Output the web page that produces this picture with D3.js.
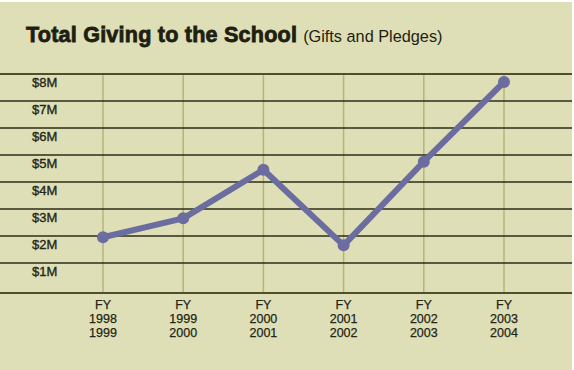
<!DOCTYPE html>
<html>
<head>
<meta charset="utf-8">
<script src="https://cdn.jsdelivr.net/npm/d3@7/dist/d3.min.js"></script>
<style>
  html, body { margin: 0; padding: 0; background: #ffffff; }
  svg { display: block; }
  text { font-family: "Liberation Sans", Arial, Helvetica, sans-serif; }
</style>
</head>
<body>
<svg id="chart" width="574" height="370"></svg>
<script>
// ---- data ----
const categories = ["1998-1999", "1999-2000", "2000-2001", "2001-2002", "2002-2003", "2003-2004"];
const totalGiving = [2.25, 2.95, 4.75, 1.95, 5.05, 8.0]; // $ millions
const yTicks = [1, 2, 3, 4, 5, 6, 7, 8];
const yTickLabels = ["$1M", "$2M", "$3M", "$4M", "$5M", "$6M", "$7M", "$8M"];
const titleText = "Total Giving to the School";
const subtitleText = "(Gifts and Pledges)";

// ---- layout ----
const W = 574, H = 370;
const svg = d3.select("#chart");

svg.append("rect").attr("x", 0).attr("y", 2).attr("width", 572).attr("height", H - 2)
  .attr("fill", "#dedfb6");

const x = d3.scalePoint().domain(categories).range([103, 504]);
const y = d3.scaleLinear().domain([0, 8]).range([298, 82]);

const gridOffset = -8;      // grid lines sit just above each label
const topLine = y(8) + gridOffset;
const axisY = y(0) - 5;

// vertical grid lines
svg.append("g").selectAll("line").data(categories).join("line")
  .attr("x1", d => x(d)).attr("x2", d => x(d))
  .attr("y1", topLine).attr("y2", axisY)
  .attr("stroke", "#b3b47a").attr("stroke-width", 1.5);

// horizontal grid lines
svg.append("g").selectAll("line").data(yTicks).join("line")
  .attr("x1", 0).attr("x2", 572)
  .attr("y1", d => y(d) + gridOffset).attr("y2", d => y(d) + gridOffset)
  .attr("stroke", d => d === 8 ? "#4f4f2c" : "#2c2c1a")
  .attr("stroke-width", d => d === 8 ? 1.8 : 1.4);

// bottom axis line
svg.append("line").attr("x1", 0).attr("x2", 572).attr("y1", axisY).attr("y2", axisY)
  .attr("stroke", "#4f4f2c").attr("stroke-width", 2);

// y labels
const yAxis = d3.axisLeft(y).tickValues(yTicks).tickFormat((d, i) => yTickLabels[i]).tickSize(0);
const gy = svg.append("g").attr("transform", "translate(32,0)").call(yAxis);
gy.select(".domain").remove();
gy.selectAll("text").attr("text-anchor", "start").attr("x", 0).attr("dy", "0.35em")
  .attr("font-size", 13).attr("fill", "#262616")
  .attr("stroke", "#262616").attr("stroke-width", 0.35)
  .style("font-family", "'Liberation Sans', Arial, sans-serif");

// x labels
const gx = svg.append("g");
categories.forEach(c => {
  const parts = ["FY"].concat(c.split("-"));
  const t = gx.append("text").attr("x", x(c)).attr("y", 309)
    .attr("text-anchor", "middle").attr("font-size", 12.5).attr("fill", "#262616")
    .attr("stroke", "#262616").attr("stroke-width", 0.25);
  parts.forEach((p, i) => {
    t.append("tspan").attr("x", x(c)).attr("dy", i === 0 ? 0 : 14).text(p);
  });
});

// line
const pts = categories.map((c, i) => [x(c), y(totalGiving[i])]);
svg.append("path").datum(pts)
  .attr("d", d3.line())
  .attr("fill", "none").attr("stroke", "#6b6ca0").attr("stroke-width", 6)
  .attr("stroke-linejoin", "round");

svg.append("g").selectAll("circle").data(pts).join("circle")
  .attr("cx", d => d[0]).attr("cy", d => d[1]).attr("r", 6)
  .attr("fill", "#6b6ca0");

// title
const title = svg.append("text").attr("x", 26).attr("y", 42).attr("fill", "#1e1e12");
title.append("tspan").attr("font-size", 21.6).attr("font-weight", "bold")
  .attr("letter-spacing", 0.2)
  .attr("stroke", "#1e1e12").attr("stroke-width", 0.8).text(titleText);
title.append("tspan").attr("font-size", 16.3).attr("dx", 6).text(subtitleText);
</script>
</body>
</html>
